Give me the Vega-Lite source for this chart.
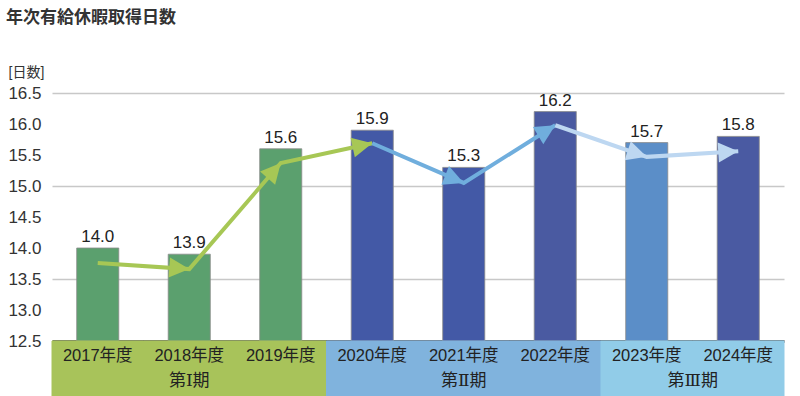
{
  "$schema": "https://vega.github.io/schema/vega-lite/v6.json",
  "background": "white",
  "padding": {"left": 5, "top": 9, "right": 16, "bottom": 0},
  "bounds": "flush",
  "title": {"text": "年次有給休暇取得日数", "anchor": "start", "frame": "bounds", "font": "Noto Sans CJK JP", "fontSize": 17, "fontWeight": "bold", "color": "#333333", "offset": 38, "dx": -2},
  "config": {"view": {"stroke": null}, "font": "Liberation Sans, Noto Sans CJK JP"},
  "spacing": 0,
  "resolve": {"scale": {"color": "independent", "x": "independent", "y": "independent", "stroke": "independent"}},
  "datasets": {
    "bars": [
      {"year": "2017年度", "value": 14.0, "period": "第Ⅰ期"},
      {"year": "2018年度", "value": 13.9, "period": "第Ⅰ期"},
      {"year": "2019年度", "value": 15.6, "period": "第Ⅰ期"},
      {"year": "2020年度", "value": 15.9, "period": "第Ⅱ期"},
      {"year": "2021年度", "value": 15.3, "period": "第Ⅱ期"},
      {"year": "2022年度", "value": 16.2, "period": "第Ⅱ期"},
      {"year": "2023年度", "value": 15.7, "period": "第Ⅲ期"},
      {"year": "2024年度", "value": 15.8, "period": "第Ⅲ期"}
    ],
    "lines": [
      {"year": "2017年度", "value": 13.76, "series": "I"},
      {"year": "2018年度", "value": 13.66, "series": "I"},
      {"year": "2019年度", "value": 15.37, "series": "I"},
      {"year": "2020年度", "value": 15.69, "series": "I"},
      {"year": "2020年度", "value": 15.69, "series": "II"},
      {"year": "2021年度", "value": 15.05, "series": "II"},
      {"year": "2022年度", "value": 15.98, "series": "II"},
      {"year": "2022年度", "value": 15.98, "series": "III"},
      {"year": "2023年度", "value": 15.47, "series": "III"},
      {"year": "2024年度", "value": 15.56, "series": "III"}
    ]
  },
  "vconcat": [
    {
      "width": 732,
      "height": 248,
      "encoding": {
        "x": {"field": "year", "type": "nominal", "sort": null,
              "scale": {"paddingInner": 0.54, "paddingOuter": 0.27},
              "axis": {"labels": false, "ticks": false, "domain": true, "domainColor": "#333333", "domainWidth": 2.5, "title": null, "grid": false}},
        "y": {"field": "value", "type": "quantitative",
              "scale": {"domain": [12.5, 16.5], "nice": false, "zero": false},
              "axis": {"values": [12.5, 13, 13.5, 14, 14.5, 15, 15.5, 16, 16.5], "format": ".1f",
                       "labelFontSize": 17, "labelColor": "#333333", "labelPadding": 11,
                       "ticks": false, "domain": false, "grid": true, "gridColor": "#c8c8c8", "gridWidth": 1.5,
                       "gridOpacity": {"condition": {"test": "datum.value === 13.5 || datum.value === 15 || datum.value === 16.5", "value": 1}, "value": 0},
                       "title": "[日数]", "titleAngle": 0, "titleAlign": "left", "titleBaseline": "middle",
                       "titleX": -44, "titleY": -21, "titleFontSize": 14, "titleFontWeight": "normal", "titleColor": "#333333"}}
      },
      "layer": [
        {
          "data": {"name": "bars"},
          "mark": {"type": "bar", "stroke": "#8a8a8a", "strokeWidth": 0.8},
          "encoding": {
            "y2": {"datum": 12.5},
            "color": {"field": "year", "type": "nominal", "legend": null,
                      "scale": {"domain": ["2017年度", "2018年度", "2019年度", "2020年度", "2021年度", "2022年度", "2023年度", "2024年度"],
                                "range": ["#5BA06E", "#5BA06E", "#5BA06E", "#4359A6", "#4359A6", "#4A5AA1", "#5B8EC8", "#4A5AA2"]}}
          }
        },
        {
          "data": {"name": "bars"},
          "mark": {"type": "text", "baseline": "bottom", "dy": -2, "fontSize": 17, "color": "#222222"},
          "encoding": {"text": {"field": "value", "type": "quantitative", "format": ".1f"}}
        },
        {
          "data": {"name": "lines"},
          "mark": {"type": "line", "strokeWidth": 4},
          "encoding": {
            "stroke": {"field": "series", "type": "nominal", "legend": null,
                       "scale": {"domain": ["I", "II", "III"], "range": ["#A7C755", "#70AEDD", "#BDD7F1"]}}
          }
        },
        {
          "data": {"name": "lines"},
          "transform": [{"filter": "datum.series === 'I' && datum.year === '2018年度'"}],
          "mark": {"type": "point", "shape": "M0,0L-2,-1L-2,1Z", "filled": true, "opacity": 1, "color": "#A7C755", "size": 400, "angle": 4.3}
        },
        {
          "data": {"name": "lines"},
          "transform": [{"filter": "datum.series === 'I' && datum.year === '2019年度'"}],
          "mark": {"type": "point", "shape": "M0,0L-2,-1L-2,1Z", "filled": true, "opacity": 1, "color": "#A7C755", "size": 400, "angle": -48.9}
        },
        {
          "data": {"name": "lines"},
          "transform": [{"filter": "datum.series === 'I' && datum.year === '2020年度'"}],
          "mark": {"type": "point", "shape": "M0,0L-2,-1L-2,1Z", "filled": true, "opacity": 1, "color": "#A7C755", "size": 400, "angle": -12.2}
        },
        {
          "data": {"name": "lines"},
          "transform": [{"filter": "datum.series === 'II' && datum.year === '2021年度'"}],
          "mark": {"type": "point", "shape": "M0,0L-2,-1L-2,1Z", "filled": true, "opacity": 1, "color": "#70AEDD", "size": 400, "angle": 22.1}
        },
        {
          "data": {"name": "lines"},
          "transform": [{"filter": "datum.series === 'II' && datum.year === '2022年度'"}],
          "mark": {"type": "point", "shape": "M0,0L-2,-1L-2,1Z", "filled": true, "opacity": 1, "color": "#70AEDD", "size": 400, "angle": -31.1}
        },
        {
          "data": {"name": "lines"},
          "transform": [{"filter": "datum.series === 'III' && datum.year === '2023年度'"}],
          "mark": {"type": "point", "shape": "M0,0L-2,-1L-2,1Z", "filled": true, "opacity": 1, "color": "#BDD7F1", "size": 400, "angle": 18}
        },
        {
          "data": {"name": "lines"},
          "transform": [{"filter": "datum.series === 'III' && datum.year === '2024年度'"}],
          "mark": {"type": "point", "shape": "M0,0L-2,-1L-2,1Z", "filled": true, "opacity": 1, "color": "#BDD7F1", "size": 400, "angle": -3.5}
        }
      ]
    },
    {
      "width": 732,
      "height": 55,
      "data": {"name": "bars"},
      "encoding": {
        "x": {"field": "year", "type": "nominal", "sort": null, "scale": {"paddingInner": 0, "paddingOuter": 0}, "axis": null}
      },
      "layer": [
        {
          "mark": {"type": "rect", "strokeWidth": 1},
          "encoding": {
            "color": {"field": "period", "type": "nominal", "legend": null,
                      "scale": {"domain": ["第Ⅰ期", "第Ⅱ期", "第Ⅲ期"], "range": ["#A8C35A", "#80B3DD", "#91CCE8"]}},
            "stroke": {"field": "period", "type": "nominal", "legend": null,
                      "scale": {"domain": ["第Ⅰ期", "第Ⅱ期", "第Ⅲ期"], "range": ["#A8C35A", "#80B3DD", "#91CCE8"]}}
          }
        },
        {
          "mark": {"type": "text", "fontSize": 16.5, "color": "#222222", "baseline": "middle"},
          "encoding": {
            "text": {"field": "year", "type": "nominal"},
            "y": {"datum": "年度", "type": "nominal", "scale": {"type": "point", "domain": ["年度", "期"], "padding": 0.6}, "axis": null}
          }
        },
        {
          "transform": [{"filter": "datum.year === '2018年度' || datum.year === '2021年度'"}],
          "mark": {"type": "text", "fontSize": 17, "font": "DejaVu Serif, Noto Sans CJK JP", "color": "#222222", "baseline": "middle"},
          "encoding": {
            "text": {"field": "period", "type": "nominal"},
            "y": {"datum": "期", "type": "nominal"}
          }
        },
        {
          "transform": [{"filter": "datum.year === '2023年度'"}],
          "mark": {"type": "text", "fontSize": 17, "font": "DejaVu Serif, Noto Sans CJK JP", "color": "#222222", "baseline": "middle", "dx": 46},
          "encoding": {
            "text": {"field": "period", "type": "nominal"},
            "y": {"datum": "期", "type": "nominal"}
          }
        }
      ]
    }
  ]
}
